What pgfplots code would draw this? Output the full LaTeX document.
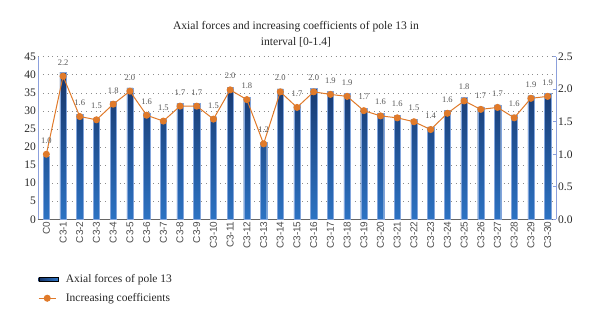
\documentclass[border=0pt]{standalone}
\usepackage{fontspec}
\setmainfont{Liberation Serif}
\setsansfont{Liberation Sans}
\usepackage{pgfplots}
\usepackage{pgfplotstable}
\pgfplotsset{compat=1.18}
\definecolor{barnavy}{RGB}{22,52,105}
\definecolor{barblue}{RGB}{45,115,195}
\definecolor{baredge}{RGB}{130,165,220}
\definecolor{lineorange}{RGB}{224,122,42}
\definecolor{axisblue}{RGB}{140,160,220}
\definecolor{labgray}{RGB}{85,85,85}

\pgfplotstableread{
x  f     c     lab
0  17.5  1.00  1.0
1  40.7  2.20  2.2
2  29.1  1.58  1.6
3  28.1  1.53  1.5
4  32.7  1.77  1.8
5  36.4  1.97  2.0
6  29.5  1.60  1.6
7  27.7  1.51  1.5
8  32.1  1.74  1.7
9  32.1  1.74  1.7
10 28.4  1.54  1.5
11 36.5  1.99  2.0
12 33.8  1.84  1.8
13 21.3  1.16  1.2
14 36.1  1.96  2.0
15 31.6  1.72  1.7
16 36.3  1.96  2.0
17 35.4  1.92  1.9
18 34.8  1.89  1.9
19 30.8  1.67  1.7
20 29.4  1.59  1.6
21 28.7  1.56  1.6
22 27.7  1.50  1.5
23 25.6  1.38  1.4
24 30.2  1.63  1.6
25 33.7  1.82  1.8
26 31.1  1.69  1.7
27 31.7  1.72  1.7
28 28.9  1.56  1.6
29 34.2  1.86  1.9
30 34.9  1.89  1.9
}\datatable

\begin{document}
\begin{tikzpicture}[x=1pt,y=1pt]
\useasboundingbox (0,0) rectangle (600,326);
\node[align=center, font=\fontsize{11.6}{16}\selectfont, text=black!85] at (296,292)
  {Axial forces and increasing coefficients of pole 13 in\\interval [0-1.4]};
\begin{axis}[
  at={(38pt,106.7pt)}, anchor=south west,
  scale only axis, width=518pt, height=162.6pt,
  xmin=-0.5, xmax=30.5, ymin=0, ymax=45,
  ytick={0,5,...,45},
  xtick={0,...,30},
  xticklabels={C0,C3-1,C3-2,C3-3,C3-4,C3-5,C3-6,C3-7,C3-8,C3-9,C3-10,C3-11,C3-12,C3-13,C3-14,C3-15,C3-16,C3-17,C3-18,C3-19,C3-20,C3-21,C3-22,C3-23,C3-24,C3-25,C3-26,C3-27,C3-28,C3-29,C3-30},
  x tick label style={rotate=90, anchor=east, font=\sffamily\fontsize{10}{10}\selectfont, text=black!70, inner sep=2pt},
  y tick label style={font=\fontsize{11.5}{12}\selectfont, text=black!85, inner sep=2pt},
  /pgf/number format/assume math mode=true,
  axis x line*=bottom, axis y line*=left,
  x axis line style={-, draw=black!60, line width=0.8pt},
  y axis line style={-, draw=axisblue, line width=0.8pt},
  major tick length=0pt,
  ymajorgrids,
  grid style={draw=black!45, dash pattern=on 0.8pt off 4pt, line width=0.6pt},
  clip=false,
]
\addplot[ybar, bar width=6.3pt, draw=baredge, line width=0.3pt,
  top color=barnavy, bottom color=barblue] table[x=x, y=f] {\datatable};
\end{axis}
\begin{axis}[
  at={(38pt,106.7pt)}, anchor=south west,
  scale only axis, width=518pt, height=162.6pt,
  xmin=-0.5, xmax=30.5, ymin=0, ymax=2.5,
  ytick={0,0.5,...,2.5},
  axis x line=none, axis y line*=right,
  y axis line style={-, draw=axisblue, line width=0.8pt},
  ytick style={draw=axisblue, line width=0.8pt},
  tick align=inside, major tick length=3pt,
  y tick label style={font=\fontsize{11.5}{12}\selectfont, text=black!85, inner sep=2pt,
    /pgf/number format/.cd, fixed, fixed zerofill, precision=1},
  /pgf/number format/assume math mode=true,
  clip=false,
  legend style={at={(0.0,-0.328)}, anchor=north west, draw=none, fill=none,
    font=\fontsize{11.5}{13}\selectfont, row sep=5pt, inner sep=0pt,
    nodes={text=black!85, inner sep=2pt},
    /tikz/every odd column/.append style={column sep=6pt}},
  legend cell align=left,
]
\addlegendimage{legend image code/.code={\shade[left color=barnavy, right color=barblue] (0pt,-2pt) rectangle (19pt,2pt);}}
\addlegendentry{Axial forces of pole 13}
\addplot[color=lineorange, line width=1pt, mark=*, mark size=3pt,
  mark options={fill=lineorange, draw=lineorange},
  nodes near coords, point meta=explicit symbolic,
  every node near coord/.append style={font=\fontsize{8.5}{8.5}\selectfont, text=labgray, anchor=south, yshift=7pt}]
  table[x=x, y=c, meta=lab] {\datatable};
\addlegendentry{Increasing coefficients}
\end{axis}
\end{tikzpicture}
\end{document}
